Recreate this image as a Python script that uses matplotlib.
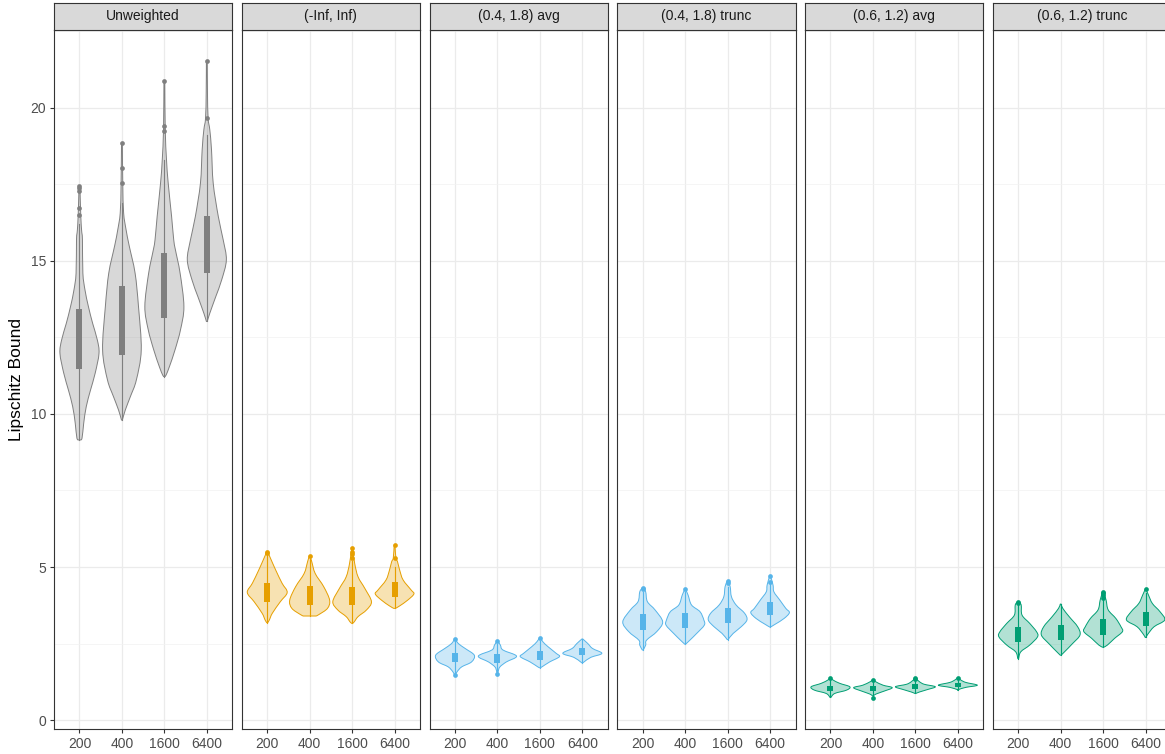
import numpy as np
import matplotlib
matplotlib.use("Agg")
import matplotlib.pyplot as plt
from matplotlib.path import Path
from matplotlib.patches import PathPatch, Rectangle

plt.rcParams['font.family'] = ['Liberation Sans', 'DejaVu Sans']

panels = ["Unweighted", "(-Inf, Inf)", "(0.4, 1.8) avg", "(0.4, 1.8) trunc",
          "(0.6, 1.2) avg", "(0.6, 1.2) trunc"]
sizes = ["200", "400", "1600", "6400"]
colors = ["#7F7F7F", "#E69F00", "#56B4E9", "#56B4E9", "#009E73", "#009E73"]

# violin outlines: (y, half width) from top to bottom
shape_unw = [
    [(17.45, .01), (16.5, .03), (16.0, .05), (15.69, .07), (14.6, .08), (14.05, .13), (13.51, .21),
     (12.96, .31), (12.42, .42), (11.98, .46), (11.33, .37), (10.78, .26), (10.24, .16), (9.7, .10),
     (9.21, .06), (9.15, .01)],
    [(18.85, .01), (17.5, .02), (16.56, .04), (16.0, .10), (15.5, .17), (14.6, .31), (13.51, .39),
     (12.09, .455), (11.11, .34), (10.57, .20), (10.13, .08), (9.8, .01)],
    [(20.86, .01), (19.3, .02), (18.3, .05), (17.54, .09), (16.45, .17), (15.69, .22), (15.36, .26),
     (14.6, .37), (13.51, .46), (12.75, .38), (12.09, .25), (11.55, .12), (11.27, .04), (11.22, .01)],
    [(21.54, .01), (20.5, .015), (19.66, .03), (19.28, .07), (18.63, .11), (17.54, .15), (16.45, .27),
     (15.69, .385), (15.03, .46), (14.38, .35), (13.83, .21), (13.29, .07), (13.02, .01)],
]
shape_inf = [
    [(5.5, .01), (5.34, .06), (4.9, .2), (4.47, .35), (4.17, .47), (3.87, .31), (3.49, .12), (3.27, .05), (3.18, .01)],
    [(5.36, .01), (5.17, .05), (4.79, .13), (4.36, .33), (3.92, .47), (3.65, .42), (3.45, .22), (3.4, .15)],
    [(5.61, .01), (5.12, .06), (4.68, .14), (4.3, .3), (3.87, .455), (3.6, .34), (3.38, .14), (3.21, .05), (3.16, .01)],
    [(5.72, .01), (5.3, .03), (5.17, .07), (4.9, .12), (4.58, .2), (4.25, .39), (4.12, .455), (3.92, .31),
     (3.73, .12), (3.65, .02)],
]
shape_a18 = [
    [(2.65, .01), (2.5, .08), (2.34, .24), (2.12, .455), (1.9, .39), (1.74, .16), (1.58, .05), (1.47, .01)],
    [(2.58, .01), (2.45, .07), (2.29, .13), (2.09, .45), (1.9, .21), (1.74, .06), (1.6, .02), (1.49, .01)],
    [(2.69, .01), (2.56, .07), (2.4, .19), (2.18, .385), (2.07, .46), (1.9, .23), (1.74, .05), (1.71, .01)],
    [(2.65, .01), (2.5, .13), (2.34, .24), (2.18, .46), (2.05, .2), (1.9, .04), (1.87, .01)],
]
shape_t18 = [
    [(4.32, .01), (4.19, .07), (3.87, .11), (3.6, .29), (3.21, .47), (2.89, .33), (2.61, .09), (2.45, .07), (2.29, .01)],
    [(4.27, .01), (4.08, .07), (3.76, .15), (3.54, .35), (3.27, .44), (3.1, .45), (2.83, .27), (2.61, .11), (2.48, .01)],
    [(4.54, .01), (4.36, .06), (4.03, .09), (3.76, .2), (3.49, .4), (3.27, .455), (3.05, .32), (2.83, .13), (2.63, .01)],
    [(4.71, .01), (4.41, .07), (4.19, .09), (3.92, .23), (3.65, .37), (3.51, .455), (3.32, .33), (3.14, .13), (3.04, .01)],
]
shape_a12 = [
    [(1.38, .01), (1.31, .06), (1.2, .22), (1.09, .455), (0.98, .38), (0.87, .1), (0.74, .01)],
    [(1.31, .01), (1.25, .07), (1.14, .24), (1.06, .455), (0.95, .27), (0.85, .07), (0.79, .01)],
    [(1.36, .01), (1.25, .1), (1.17, .21), (1.09, .47), (1.0, .29), (0.92, .1), (0.87, .01)],
    [(1.38, .01), (1.31, .07), (1.23, .19), (1.14, .46), (1.07, .19), (1.0, .02), (0.98, .01)],
]
shape_t12 = [
    [(3.87, .01), (3.76, .07), (3.43, .09), (3.16, .27), (2.89, .43), (2.72, .455), (2.45, .27), (2.23, .06), (2.01, .01)],
    [(3.79, .01), (3.65, .05), (3.38, .2), (3.05, .4), (2.78, .455), (2.5, .28), (2.23, .09), (2.12, .01)],
    [(4.2, .01), (3.92, .07), (3.6, .12), (3.32, .3), (3.05, .42), (2.89, .455), (2.67, .27), (2.45, .1), (2.38, .01)],
    [(4.27, .01), (4.08, .07), (3.81, .16), (3.54, .34), (3.27, .45), (3.05, .2), (2.8, .05), (2.7, .01)],
]

# box (q1, q3), whisker ends and outliers per sample size
box_unw = [(11.47, 13.43), (11.94, 14.18), (13.12, 15.27), (14.6, 16.48)]
box_inf = [(3.87, 4.49), (3.75, 4.38), (3.76, 4.36), (4.03, 4.52)]
box_a18 = [(1.89, 2.18), (1.87, 2.16), (1.96, 2.25), (2.12, 2.34)]
box_t18 = [(2.94, 3.46), (3.0, 3.51), (3.16, 3.65), (3.43, 3.87)]
box_a12 = [(0.96, 1.11), (0.94, 1.13), (1.01, 1.17), (1.09, 1.22)]
box_t12 = [(2.54, 3.03), (2.61, 3.1), (2.78, 3.3), (3.07, 3.54)]

whisk_unw = [(9.15, 16.2), (9.8, 16.9), (11.22, 18.3), (13.02, 19.1)]
whisk_inf = [(3.18, 5.4), (3.4, 5.25), (3.16, 5.2), (3.65, 5.0)]
whisk_a18 = [(1.55, 2.6), (1.55, 2.5), (1.71, 2.6), (1.87, 2.65)]
whisk_t18 = [(2.29, 4.2), (2.48, 4.2), (2.63, 4.35), (3.04, 4.45)]
whisk_a12 = [(0.74, 1.3), (0.79, 1.25), (0.87, 1.3), (0.98, 1.32)]
whisk_t12 = [(2.01, 3.75), (2.12, 3.79), (2.38, 3.92), (2.7, 4.15)]

out_unw = [[17.45, 17.38, 17.27, 16.72, 16.5], [18.85, 18.03, 17.54], [20.86, 19.41, 19.23], [21.54, 19.68]]
out_inf = [[5.5, 5.45], [5.36], [5.61, 5.5, 5.41, 5.28], [5.72, 5.28]]
out_a18 = [[2.65, 1.47], [2.58, 1.49], [2.69], []]
out_t18 = [[4.32, 4.28], [4.27], [4.54, 4.48], [4.71, 4.52]]
out_a12 = [[1.38], [1.31, 0.73], [1.36, 1.33], [1.38]]
out_t12 = [[3.87, 3.84], [], [4.2, 4.15, 4.08, 4.0], [4.27]]

shapes = [shape_unw, shape_inf, shape_a18, shape_t18, shape_a12, shape_t12]
boxes = [box_unw, box_inf, box_a18, box_t18, box_a12, box_t12]
whisks = [whisk_unw, whisk_inf, whisk_a18, whisk_t18, whisk_a12, whisk_t12]
outs = [out_unw, out_inf, out_a18, out_t18, out_a12, out_t12]


def spline(pts):
    # catmull-rom through the points, as cubic bezier pieces
    pts = np.asarray(pts, float)
    ext = np.vstack([pts[0], pts, pts[-1]])
    verts = []
    for i in range(1, len(ext) - 2):
        p0, p1, p2, p3 = ext[i - 1], ext[i], ext[i + 1], ext[i + 2]
        verts += [p1 + (p2 - p0) / 6, p2 - (p3 - p1) / 6, p2]
    return verts


def violin_path(c, prof):
    right = [(c + w, y) for y, w in prof]
    left = [(c - w, y) for y, w in prof[::-1]]
    n = len(prof) - 1
    verts = [right[0]] + spline(right) + [left[0]] + spline(left) + [right[0]]
    codes = [Path.MOVETO] + [Path.CURVE4] * (3 * n) + [Path.LINETO] + [Path.CURVE4] * (3 * n) + [Path.CLOSEPOLY]
    return Path(verts, codes)


W, H = 1165, 754
fig = plt.figure(figsize=(W / 100, H / 100), dpi=100)

top, bot = 30, 729.3
for k, name in enumerate(panels):
    x0 = 54 + 187.75 * k
    ax = fig.add_axes([x0 / W, (H - bot) / H, 178.3 / W, (bot - top) / H])
    col = colors[k]
    for i in range(4):
        c = i + 1
        ax.add_patch(PathPatch(violin_path(c, shapes[k][i]), facecolor=col, alpha=0.3,
                               edgecolor="none", zorder=2))
        ax.add_patch(PathPatch(violin_path(c, shapes[k][i]), facecolor="none",
                               edgecolor=col, lw=0.7, zorder=3))
        lo, hi = whisks[k][i]
        ax.plot([c, c], [lo, hi], color=col, lw=0.8, zorder=4)
        q1, q3 = boxes[k][i]
        ax.add_patch(Rectangle((c - 0.07, q1), 0.14, q3 - q1, facecolor=col,
                               edgecolor="none", zorder=5))
        if outs[k][i]:
            ax.plot([c] * len(outs[k][i]), outs[k][i], 'o', color=col, ms=3.4,
                    mec="none", zorder=6)

    ax.set_xlim(0.4, 4.6)
    ax.set_ylim(-0.3, 22.54)
    ax.set_xticks([1, 2, 3, 4])
    ax.set_xticklabels(sizes)
    ax.set_yticks([0, 5, 10, 15, 20])
    ax.set_yticks([2.5, 7.5, 12.5, 17.5, 22.5], minor=True)
    ax.grid(True, which="major", color="#EBEBEB", lw=0.9)
    ax.grid(True, which="minor", axis="y", color="#F2F2F2", lw=0.5)
    ax.set_axisbelow(True)
    ax.tick_params(axis="both", which="major", length=3, width=0.8, color="#333333",
                   labelcolor="#4D4D4D", labelsize=10, pad=2.5)
    ax.tick_params(axis="y", which="minor", length=0)
    if k > 0:
        ax.tick_params(axis="y", which="major", length=0, labelleft=False)
    for sp in ax.spines.values():
        sp.set_color("#333333")
        sp.set_linewidth(0.8)

    # facet strip
    sax = fig.add_axes([x0 / W, (H - top) / H, 178.3 / W, 27.3 / H])
    sax.set_facecolor("#D9D9D9")
    sax.set_xticks([])
    sax.set_yticks([])
    for sp in sax.spines.values():
        sp.set_color("#333333")
        sp.set_linewidth(0.8)
    sax.text(0.5, 0.5, name, ha="center", va="center", fontsize=10, color="#1A1A1A",
             transform=sax.transAxes)

fig.text(17 / W, 1 - 379.6 / H, "Lipschitz Bound", rotation=90, ha="center", va="center",
         fontsize=12.5, color="black")

fig.savefig("out.png", dpi=100)
